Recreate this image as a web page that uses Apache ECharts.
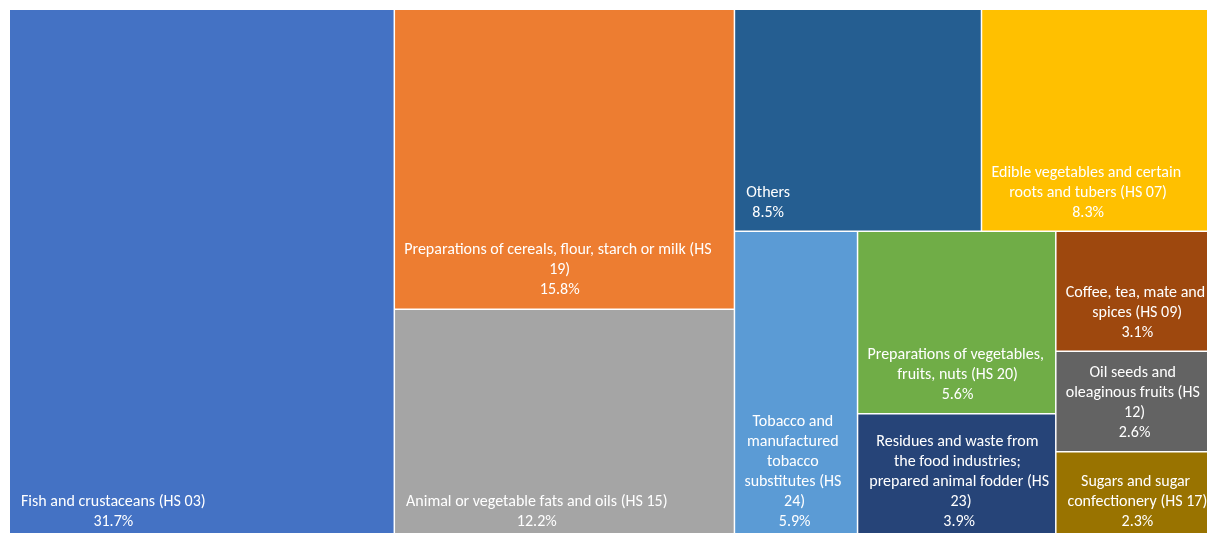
<!DOCTYPE html>
<html>
<head>
<meta charset="utf-8">
<title>Export shares by product group</title>
<script src="https://cdn.jsdelivr.net/npm/echarts@6/dist/echarts.min.js"></script>
<style>
  html, body { margin: 0; padding: 0; background: #ffffff; overflow: hidden; }
  #chart { width: 1207px; height: 533px; }
</style>
</head>
<body>
<div id="chart"></div>
<script>
// Product groups and their share of the total (percent)
const categories = [
  'Fish and crustaceans (HS 03)',
  'Preparations of cereals, flour, starch or milk (HS 19)',
  'Animal or vegetable fats and oils (HS 15)',
  'Others',
  'Edible vegetables and certain roots and tubers (HS 07)',
  'Tobacco and manufactured tobacco substitutes (HS 24)',
  'Preparations of vegetables, fruits, nuts (HS 20)',
  'Residues and waste from the food industries; prepared animal fodder (HS 23)',
  'Coffee, tea, mate and spices (HS 09)',
  'Oil seeds and oleaginous fruits (HS 12)',
  'Sugars and sugar confectionery (HS 17)'
];
const shares = [31.7, 15.8, 12.2, 8.5, 8.3, 5.9, 5.6, 3.9, 3.1, 2.6, 2.3];
const colors = [
  '#4472C4', '#ED7D31', '#A5A5A5', '#255E91', '#FFC000', '#5B9BD5',
  '#70AD47', '#264478', '#9E480E', '#636363', '#997300'
];

const FONT_FAMILY = 'Carlito, "Open Sans", sans-serif';
const FONT_SIZE = 16;
const PAD_LEFT = 11;
const PAD_RIGHT = 4;
const PAD_BOTTOM = 8;

const data = categories.map((name, i) => ({
  name: name,
  value: shares[i],
  itemStyle: { color: colors[i] }
}));

// Width of the widest wrapped line, so the text block can sit at the
// cell's left edge while its lines stay centred on each other.
const measureCtx = document.createElement('canvas').getContext('2d');
measureCtx.font = FONT_SIZE + 'px ' + FONT_FAMILY;
function blockWidth(text, avail) {
  let maxW = 0;
  text.split('\n').forEach(para => {
    let line = '';
    para.split(' ').forEach(word => {
      const trial = line ? line + ' ' + word : word;
      if (!line || measureCtx.measureText(trial).width <= avail) {
        line = trial;
      } else {
        maxW = Math.max(maxW, measureCtx.measureText(line).width);
        line = word;
      }
    });
    maxW = Math.max(maxW, measureCtx.measureText(line).width);
  });
  return Math.min(maxW, avail);
}

const chart = echarts.init(document.getElementById('chart'), null, { renderer: 'canvas' });
chart.setOption({
  animation: false,
  series: [{
    type: 'treemap',
    left: 10,
    top: 10,
    width: 1212,
    height: 530,
    roam: false,
    nodeClick: false,
    breadcrumb: { show: false },
    squareRatio: 0.782,
    levels: [
      { itemStyle: { borderWidth: 0, gapWidth: 1.5, borderColor: '#ffffff' } },
      { itemStyle: { borderWidth: 0, gapWidth: 0 } }
    ],
    label: {
      show: true,
      position: 'insideBottomLeft',
      color: '#ffffff',
      fontFamily: FONT_FAMILY,
      fontSize: FONT_SIZE,
      lineHeight: 20,
      overflow: 'break',
      padding: [0, PAD_RIGHT, PAD_BOTTOM, PAD_LEFT],
      formatter: p => p.name + '\n' + p.value.toFixed(1) + '%'
    },
    labelLayout: function (p) {
      const r = p.rect;
      const bw = blockWidth(p.text || '', r.width - PAD_LEFT - PAD_RIGHT);
      return {
        x: r.x + PAD_LEFT + bw / 2 - (PAD_LEFT - PAD_RIGHT) / 2,
        y: r.y + r.height,
        align: 'center',
        verticalAlign: 'bottom'
      };
    },
    emphasis: { disabled: true },
    data: data
  }]
});
</script>
</body>
</html>
